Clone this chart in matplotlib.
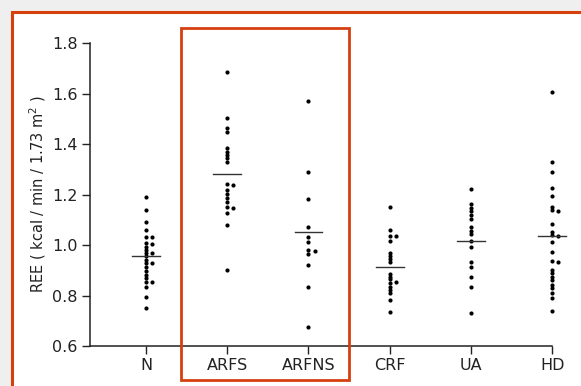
import matplotlib
matplotlib.use('Agg')
import matplotlib.pyplot as plt
from matplotlib.patches import Rectangle

# data
groups = ['N', 'ARFS', 'ARFNS', 'CRF', 'UA', 'HD']
ree_N = [1.189, 1.139, 1.091, 1.059, 1.030, 1.030, 1.007, 1.004, 0.991, 0.980,
         0.967, 0.967, 0.956, 0.941, 0.927, 0.927, 0.914, 0.898, 0.881, 0.868,
         0.855, 0.855, 0.835, 0.795, 0.749]
ree_ARFS = [1.686, 1.502, 1.462, 1.449, 1.383, 1.370, 1.356, 1.343, 1.328, 1.242,
            1.238, 1.218, 1.202, 1.185, 1.169, 1.152, 1.148, 1.128, 1.079, 0.901]
ree_ARFNS = [1.570, 1.290, 1.181, 1.073, 1.030, 1.013, 0.980, 0.977, 0.964, 0.921,
             0.835, 0.676]
ree_CRF = [1.152, 1.059, 1.037, 1.036, 1.016, 0.970, 0.956, 0.945, 0.931, 0.885,
           0.875, 0.864, 0.855, 0.848, 0.835, 0.822, 0.809, 0.782, 0.733]
ree_UA = [1.223, 1.161, 1.148, 1.135, 1.119, 1.103, 1.070, 1.057, 1.044, 1.017,
          0.991, 0.931, 0.914, 0.875, 0.835, 0.729]
ree_HD = [1.607, 1.330, 1.288, 1.227, 1.194, 1.152, 1.139, 1.136, 1.083, 1.053,
          1.040, 1.037, 1.013, 0.973, 0.938, 0.934, 0.901, 0.888, 0.875, 0.861,
          0.842, 0.829, 0.809, 0.789, 0.739]
means = [0.956, 1.280, 1.053, 0.912, 1.017, 1.037]
yticks = [0.6, 0.8, 1.0, 1.2, 1.4, 1.6, 1.8]

all_data = [ree_N, ree_ARFS, ree_ARFNS, ree_CRF, ree_UA, ree_HD]
red = '#d5400e'
ink = '#222222'
plt.rcParams['font.family'] = 'DejaVu Sans'

fig = plt.figure(figsize=(5.81, 3.86), dpi=100)
fig.patch.set_facecolor('#efefef')
# white slide area with orange frame
fig.patches.append(Rectangle((12/581, -0.05), 1.0, 1 - 12/386 + 0.05,
                             transform=fig.transFigure, facecolor='white',
                             edgecolor=red, linewidth=2.2, zorder=-10))

ax = fig.add_axes([90/581, 40/386, 480/581, 303/386])
ax.set_facecolor('none')

for i, vals in enumerate(all_data):
    xs = []
    placed = []
    for v in vals:
        # nudge overlapping dots to the right
        if any(abs(v - p) < 0.01 for p in placed):
            xs.append(i + 0.075)
        else:
            xs.append(i)
            placed.append(v)
    ax.plot(xs, vals, 'o', color='black', markersize=3.0, markeredgewidth=0)
    ax.plot([i - 0.17, i + 0.17], [means[i], means[i]], color='#333333', linewidth=1.0)

ax.set_xlim(-0.69, 5.22)
ax.set_ylim(0.6, 1.8)
ax.set_xticks(range(len(groups)))
ax.set_xticklabels(groups)
ax.set_yticks(yticks)
ax.set_yticklabels([f'{t:.1f}' for t in yticks])
ax.spines['top'].set_visible(False)
ax.spines['right'].set_visible(False)
ax.spines['bottom'].set_bounds(-0.69, 5)
for s in ['left', 'bottom']:
    ax.spines[s].set_color(ink)
    ax.spines[s].set_linewidth(1.1)
ax.tick_params(axis='both', direction='out', length=6, width=1.0, color=ink,
               labelsize=11.5, labelcolor=ink, pad=3)
ax.set_ylabel('REE ( kcal / min / 1.73 m$^2$ )', fontsize=10.5, color=ink, labelpad=3)

# red box around the ARF groups
fig.patches.append(Rectangle((181/581, 1 - 380/386), 168/581, 352/386,
                             transform=fig.transFigure, facecolor='none',
                             edgecolor=red, linewidth=2.0, zorder=5))

fig.savefig('out.png', dpi=100, facecolor=fig.get_facecolor())
